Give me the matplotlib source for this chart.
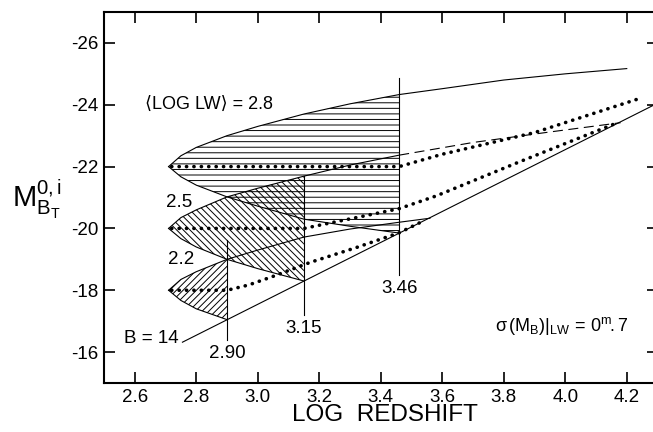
import numpy as np
import matplotlib
matplotlib.use('Agg')
import matplotlib.pyplot as plt

plt.rcParams['font.family'] = ['Liberation Sans', 'DejaVu Sans']
plt.rcParams['mathtext.fontset'] = 'custom'
plt.rcParams['mathtext.rm'] = 'Liberation Sans'
plt.rcParams['mathtext.it'] = 'Liberation Sans'
plt.rcParams['mathtext.default'] = 'regular'
plt.rcParams['hatch.linewidth'] = 0.7

# ---------------- data ----------------
# <log LW> = 2.8 envelope
lw28_up_x = [2.71, 2.75, 2.80, 2.90, 3.00, 3.15, 3.30, 3.46, 3.60, 3.80, 4.00, 4.20]
lw28_up_m = [-22.0, -22.35, -22.62, -23.0, -23.3, -23.7, -24.03, -24.33, -24.52, -24.8, -25.0, -25.17]
lw28_lo_x = [2.71, 2.75, 2.80, 2.90, 3.00, 3.15, 3.30, 3.46]
lw28_lo_m = [-22.0, -21.67, -21.4, -21.02, -20.72, -20.3, -20.07, -19.85]

# <log LW> = 2.5 envelope (upper continues dashed)
lw25_up_x = [2.71, 2.75, 2.80, 2.90, 3.00, 3.15, 3.30, 3.46]
lw25_up_m = [-20.0, -20.35, -20.6, -21.02, -21.3, -21.69, -22.05, -22.37]
lw25_dash_x = [3.46, 3.70, 3.95, 4.18]
lw25_dash_m = [-22.37, -22.78, -23.12, -23.42]
lw25_lo_x = [2.71, 2.75, 2.80, 2.90, 3.00, 3.15]
lw25_lo_m = [-20.0, -19.67, -19.4, -19.0, -18.7, -18.3]

# <log LW> = 2.2 envelope
lw22_up_x = [2.71, 2.75, 2.80, 2.90, 3.00, 3.15, 3.30, 3.46, 3.56]
lw22_up_m = [-18.0, -18.35, -18.6, -19.0, -19.3, -19.72, -19.98, -20.2, -20.33]
lw22_lo_x = [2.71, 2.75, 2.80, 2.90]
lw22_lo_m = [-18.0, -17.67, -17.4, -17.05]

# mean (dotted) curves
mean28_x = [2.72, 3.46, 3.60, 3.90, 4.25]
mean28_m = [-22.0, -22.0, -22.4, -23.1, -24.23]
mean25_x = [2.72, 3.15, 3.32, 3.46, 3.58, 3.85, 4.17]
mean25_m = [-20.0, -20.0, -20.35, -20.64, -21.05, -22.15, -23.42]
mean22_x = [2.72, 2.90, 2.97, 3.05, 3.17, 3.32, 3.46, 3.53]
mean22_m = [-18.0, -18.0, -18.17, -18.45, -18.9, -19.38, -19.86, -20.2]

# B = 14 limit line
blim_x = [2.755, 4.30]
blim_m = [-16.32, -24.05]

# cut-off distances (x, bottom, top)
cuts = [(2.90, -16.4, -19.64), (3.15, -17.2, -21.69), (3.46, -18.5, -24.85)]
cut_labels = ['2.90', '3.15', '3.46']

xticks = [2.6, 2.8, 3.0, 3.2, 3.4, 3.6, 3.8, 4.0, 4.2]
yticks = [-26, -24, -22, -20, -18, -16]

# ---------------- plot ----------------
fig = plt.figure(figsize=(6.53, 4.32), dpi=100)
ax = fig.add_axes([0.1593, 0.1134, 0.8476, 0.8588])


def lens(xu, mu, xl, ml, cut, hatch):
    xu, mu, xl, ml = map(np.asarray, (xu, mu, xl, ml))
    k = xu <= cut + 1e-9
    j = xl <= cut + 1e-9
    px = np.r_[xu[k], xl[j][::-1]]
    py = np.r_[mu[k], ml[j][::-1]]
    ax.fill(px, py, facecolor='none', edgecolor='k', lw=0, hatch=hatch)


lens(lw28_up_x, lw28_up_m, lw28_lo_x, lw28_lo_m, 3.46, '---')
lens(lw25_up_x, lw25_up_m, lw25_lo_x, lw25_lo_m, 3.15, '\\' * 5)
lens(lw22_up_x, lw22_up_m, lw22_lo_x, lw22_lo_m, 2.90, '/' * 5)

lkw = dict(color='k', lw=0.8)
for xs, ms in [(lw28_up_x, lw28_up_m), (lw28_lo_x, lw28_lo_m),
               (lw25_up_x, lw25_up_m), (lw25_lo_x, lw25_lo_m),
               (lw22_up_x, lw22_up_m), (lw22_lo_x, lw22_lo_m),
               (blim_x, blim_m)]:
    ax.plot(xs, ms, **lkw)
ax.plot(lw25_dash_x, lw25_dash_m, color='k', lw=0.8, dashes=(9, 5))

for xs, ms in [(mean28_x, mean28_m), (mean25_x, mean25_m), (mean22_x, mean22_m)]:
    ax.plot(xs, ms, color='k', lw=2.6, linestyle=(0, (0.05, 2.0)),
            dash_capstyle='round')

for (xc, lo, hi), lab in zip(cuts, cut_labels):
    ax.plot([xc, xc], [lo, hi], **lkw)
    ax.text(xc, lo + 0.45, lab, ha='center', va='center', fontsize=13.5)

ax.text(2.633, -24.0, '\u27e8LOG LW\u27e9 = 2.8', ha='left', va='center', fontsize=13)
ax.text(2.744, -20.85, '2.5', ha='center', va='center', fontsize=13.5)
ax.text(2.752, -18.99, '2.2', ha='center', va='center', fontsize=13.5)
ax.text(2.654, -16.43, 'B = 14', ha='center', va='center', fontsize=13.5)
ax.text(4.205, -16.85, r'$\sigma\,(M_B)|_{LW}\,=\,0^{m}\!.7$',
        ha='right', va='center', fontsize=13)

ax.set_xlim(2.5, 4.3)
ax.set_ylim(-15, -27)
ax.set_xticks(xticks)
ax.set_xticklabels(['%.1f' % v for v in xticks])
ax.set_yticks(yticks)
ax.set_yticklabels([str(v) for v in yticks])
ax.tick_params(direction='in', length=8, width=1.2, top=True, right=True,
               labelsize=13.5, pad=4)
for s in ax.spines.values():
    s.set_linewidth(1.5)

fig.text(385 / 653, 1 - 415 / 432, 'LOG  REDSHIFT', ha='center', va='center', fontsize=17.5)
fig.text(12 / 653, 1 - 208 / 432, r'$\mathrm{M}_{\mathrm{B}_{\mathrm{T}}}^{\mathrm{0,i}}$',
         ha='left', va='baseline', fontsize=21)

fig.savefig('out.png', dpi=100)
